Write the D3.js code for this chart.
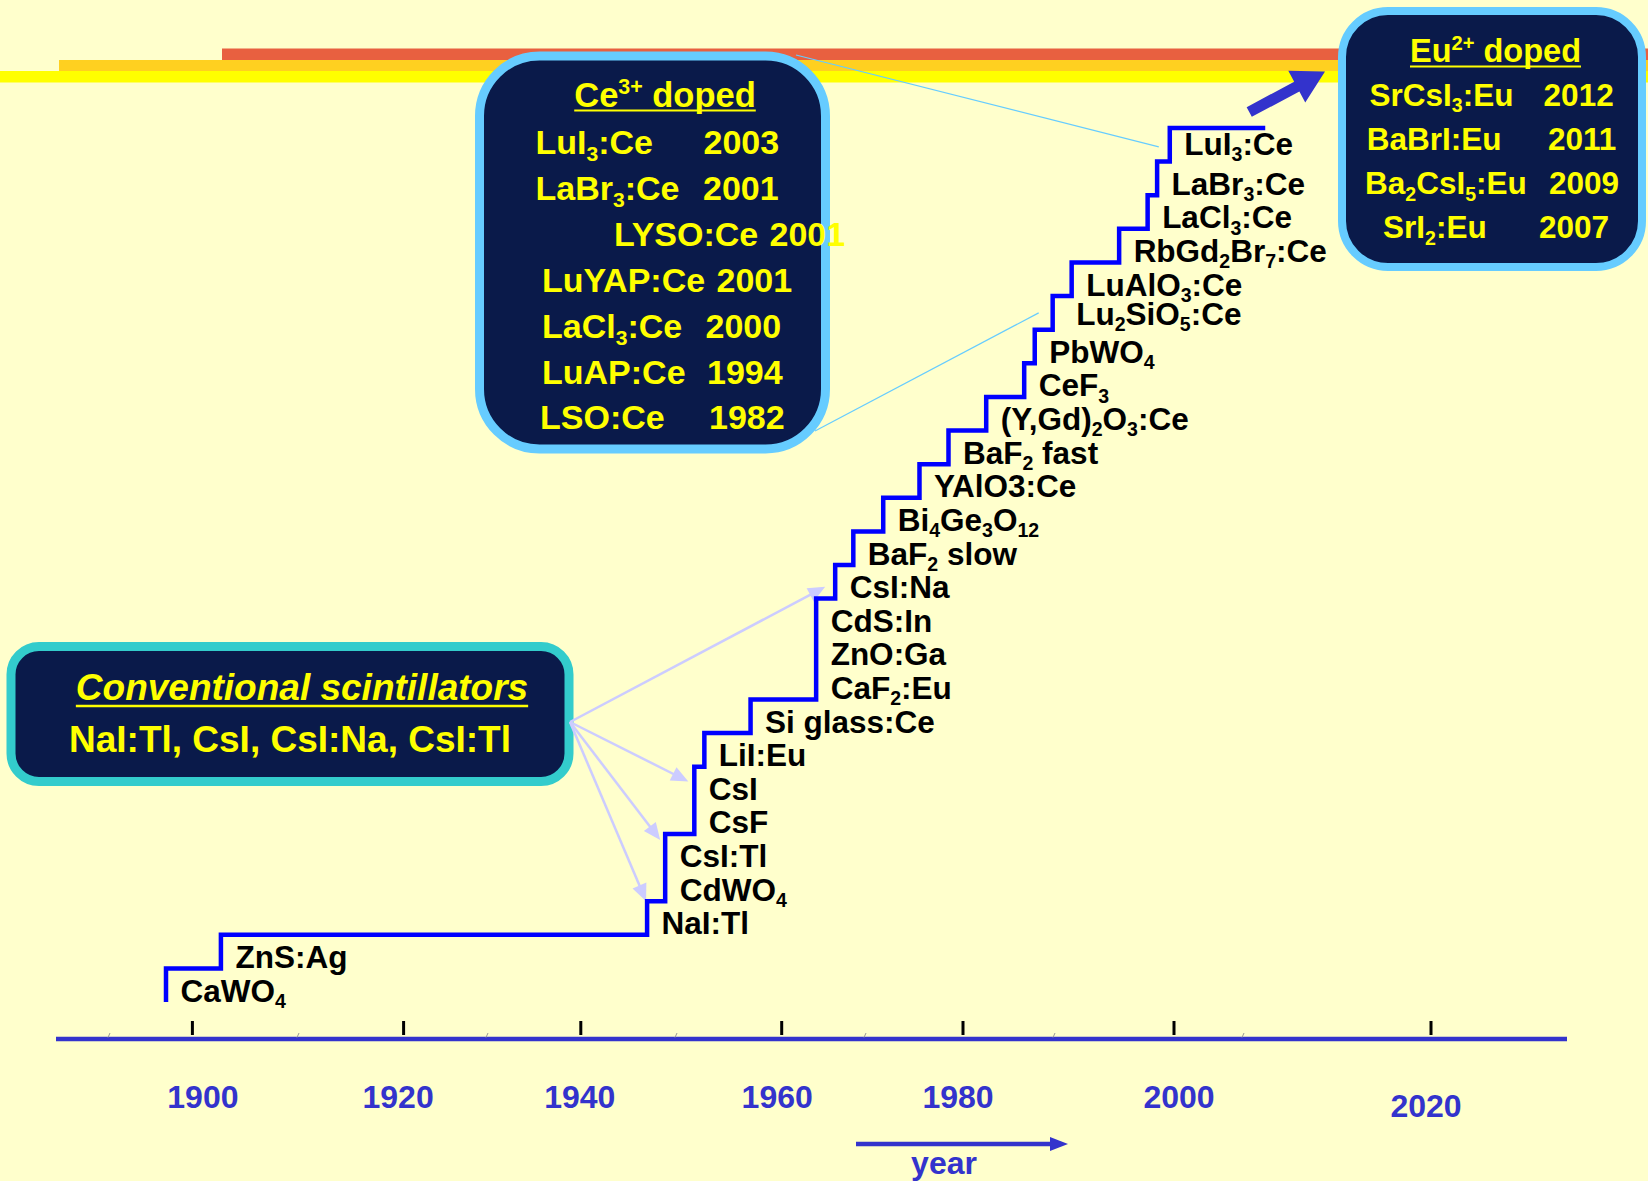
<!DOCTYPE html>
<html>
<head>
<meta charset="utf-8">
<script src="https://cdn.jsdelivr.net/npm/d3@7"></script>
<style>
  html, body { margin: 0; padding: 0; background: #ffffcc; }
  svg { display: block; }
  text { font-family: "Liberation Sans", Arial, Helvetica, sans-serif; font-weight: bold; }
</style>
</head>
<body>
<svg id="chart" width="1648" height="1181"></svg>
<script>
// ---------------- data ----------------
// Scintillator materials in order of discovery (bottom step first).
// "_{..}" marks a subscript, "^{..}" a superscript.
const materials = [
  "CaWO_{4}", "ZnS:Ag", "NaI:Tl", "CdWO_{4}", "CsI:Tl", "CsF", "CsI", "LiI:Eu",
  "Si glass:Ce", "CaF_{2}:Eu", "ZnO:Ga", "CdS:In", "CsI:Na", "BaF_{2} slow",
  "Bi_{4}Ge_{3}O_{12}", "YAlO3:Ce", "BaF_{2} fast", "(Y,Gd)_{2}O_{3}:Ce", "CeF_{3}",
  "PbWO_{4}", "Lu_{2}SiO_{5}:Ce", "LuAlO_{3}:Ce", "RbGd_{2}Br_{7}:Ce", "LaCl_{3}:Ce",
  "LaBr_{3}:Ce", "LuI_{3}:Ce"
];
const discoveryYears = [
  1897.5, 1902.7, 1946.6, 1948.4, 1948.4, 1951.3, 1951.3, 1952.3,
  1956.9, 1963.8, 1963.8, 1963.8, 1965.9, 1967.9,
  1971.2, 1975.2, 1978.4, 1982.2, 1985.8,
  1986.8, 1988.5, 1990.3, 1994.8, 1997.5,
  1998.4, 1999.6
];
const stepEndYear = 2007.1;

const axisYears = [1900, 1920, 1940, 1960, 1980, 2000, 2020];

const conventional = ["NaI:Tl", "CsI", "CsI:Na", "CsI:Tl"];

const ceDoped      = ["LuI_{3}:Ce", "LaBr_{3}:Ce", "LYSO:Ce", "LuYAP:Ce", "LaCl_{3}:Ce", "LuAP:Ce", "LSO:Ce"];
const ceDopedYears = [2003, 2001, 2001, 2001, 2000, 1994, 1982];

const euDoped      = ["SrCsI_{3}:Eu", "BaBrI:Eu", "Ba_{2}CsI_{5}:Eu", "SrI_{2}:Eu"];
const euDopedYears = [2012, 2011, 2009, 2007];

// ---------------- setup ----------------
const svg = d3.select("#chart");
const NAVY = "#0a1a4a", YELLOW = "#ffff00", AXIS_BLUE = "#3333cc";

// Hand-spaced time axis: piecewise linear between labelled years.
const x = d3.scaleLinear()
  .domain(axisYears)
  .range([192.4, 403.6, 580.8, 781.7, 963, 1174, 1431]);

// One row per material on the staircase.
const y = d3.scaleLinear().domain([0, materials.length]).range([1002, 128]);

// Writes a string with _{sub} / ^{sup} markup into a <text> element.
function rich(textSel, str, fs) {
  const re = /([_^])\{([^}]*)\}/g;
  const parts = [];
  let last = 0, m;
  while ((m = re.exec(str))) {
    if (m.index > last) parts.push({ t: str.slice(last, m.index), k: "" });
    parts.push({ t: m[2], k: m[1] });
    last = re.lastIndex;
  }
  if (last < str.length) parts.push({ t: str.slice(last), k: "" });
  let cur = 0;
  parts.forEach(p => {
    const target = p.k === "_" ? 0.2 * fs : p.k === "^" ? -0.36 * fs : 0;
    const ts = textSel.append("tspan").attr("dy", target - cur).text(p.t);
    if (p.k) ts.attr("font-size", 0.62 * fs);
    cur = target;
  });
  return textSel;
}

function underline(textSel, offset, width) {
  const b = textSel.node().getBBox();
  const by = +textSel.attr("y") + offset;
  svg.append("line")
    .attr("x1", b.x).attr("x2", b.x + b.width)
    .attr("y1", by).attr("y2", by)
    .attr("stroke", textSel.attr("fill")).attr("stroke-width", width);
}

// ---------------- header stripes ----------------
const stripes = [
  { x0: 222, y0: 48.5, h: 11.5, c: "#e86040" },
  { x0: 59,  y0: 60,   h: 11,   c: "#ffd020" },
  { x0: 0,   y0: 71,   h: 11.5, c: "#ffff00" }
];
svg.append("g").selectAll("rect").data(stripes).join("rect")
  .attr("x", d => d.x0).attr("y", d => d.y0)
  .attr("width", d => 1648 - d.x0).attr("height", d => d.h)
  .attr("fill", d => d.c);

// ---------------- callout lines from Ce box to the staircase ----------------
const rowMid = i => (y(i) + y(i + 1)) / 2;
const iLuI = materials.indexOf("LuI_{3}:Ce");
const iLSO = materials.indexOf("Lu_{2}SiO_{5}:Ce");
svg.append("g").attr("stroke", "#66ccff").attr("stroke-width", 1.2)
  .selectAll("line")
  .data([
    [796, 55, x(discoveryYears[iLuI]) - 11, rowMid(iLuI) + 2],
    [815, 431, x(discoveryYears[iLSO]) - 14, rowMid(iLSO)]
  ])
  .join("line")
  .attr("x1", d => d[0]).attr("y1", d => d[1])
  .attr("x2", d => d[2]).attr("y2", d => d[3]);

// ---------------- Ce3+ doped box ----------------
svg.append("rect")
  .attr("x", 479.5).attr("y", 56).attr("width", 346).attr("height", 393)
  .attr("rx", 60).attr("ry", 60)
  .attr("fill", NAVY).attr("stroke", "#66ccff").attr("stroke-width", 9);

const ceTitle = svg.append("text")
  .attr("x", 665).attr("y", 106.5).attr("text-anchor", "middle")
  .attr("font-size", 34.5).attr("fill", YELLOW);
rich(ceTitle, "Ce^{3+}", 34.5);
ceTitle.append("tspan").attr("dy", 0.36 * 34.5).text(" doped");
underline(ceTitle, 4, 2.2);

const ceNameX = [535.5, 535.5, 614, 542, 542, 542, 540];
const ceYearX = [703.5, 703, 769.5, 716.5, 705.5, 707, 709];
ceDoped.forEach((name, i) => {
  const base = 154.3 + i * 45.85;
  rich(svg.append("text").attr("x", ceNameX[i]).attr("y", base)
    .attr("font-size", 34).attr("fill", YELLOW), name, 34);
  svg.append("text").attr("x", ceYearX[i]).attr("y", base)
    .attr("font-size", 34).attr("fill", YELLOW).text(ceDopedYears[i]);
});

// ---------------- Eu2+ doped box ----------------
svg.append("rect")
  .attr("x", 1342).attr("y", 11).attr("width", 300).attr("height", 256)
  .attr("rx", 46).attr("ry", 46)
  .attr("fill", NAVY).attr("stroke", "#66ccff").attr("stroke-width", 8);

const euTitle = svg.append("text")
  .attr("x", 1495.5).attr("y", 61.5).attr("text-anchor", "middle")
  .attr("font-size", 32.5).attr("fill", YELLOW);
rich(euTitle, "Eu^{2+}", 32.5);
euTitle.append("tspan").attr("dy", 0.36 * 32.5).text(" doped");
underline(euTitle, 5, 2.2);

const euNameX = [1369.5, 1366.8, 1365, 1383];
const euYearX = [1543.6, 1548, 1549, 1539];
euDoped.forEach((name, i) => {
  const base = 106 + i * 44.1;
  rich(svg.append("text").attr("x", euNameX[i]).attr("y", base)
    .attr("font-size", 31.5).attr("fill", YELLOW), name, 31.5);
  svg.append("text").attr("x", euYearX[i]).attr("y", base)
    .attr("font-size", 31.5).attr("fill", YELLOW).text(euDopedYears[i]);
});

// ---------------- conventional scintillators box ----------------
svg.append("rect")
  .attr("x", 11).attr("y", 646.5).attr("width", 558).attr("height", 135)
  .attr("rx", 28).attr("ry", 28)
  .attr("fill", NAVY).attr("stroke", "#33cccc").attr("stroke-width", 9);

const convTitle = svg.append("text")
  .attr("x", 302).attr("y", 700).attr("text-anchor", "middle")
  .attr("font-size", 37).attr("font-style", "italic").attr("fill", YELLOW)
  .text("Conventional scintillators");
underline(convTitle, 6, 2.5);

svg.append("text")
  .attr("x", 290).attr("y", 751.5).attr("text-anchor", "middle")
  .attr("font-size", 37).attr("fill", YELLOW)
  .text(conventional.join(", "));

// ---------------- arrows from the conventional box ----------------
const LAV = "#ccccff";
const arrowOrigin = [570, 722];
const arrowAim = { "NaI:Tl": [-1, 0.0], "CsI": [-6, 0.44], "CsI:Na": [-10, 0.65], "CsI:Tl": [-5, 0.18] };
const arrows = conventional.map(name => {
  const i = materials.indexOf(name);
  const [dx, f] = arrowAim[name];
  return [x(discoveryYears[i]) + dx, y(i + 1) + f * (y(i) - y(i + 1))];
});
const ga = svg.append("g");
arrows.forEach(([tx, ty]) => {
  const [ox, oy] = arrowOrigin;
  const L = Math.hypot(tx - ox, ty - oy), ux = (tx - ox) / L, uy = (ty - oy) / L;
  const hl = 17, hw = 7.5;
  const bx = tx - ux * hl, by = ty - uy * hl;
  ga.append("line").attr("x1", ox).attr("y1", oy).attr("x2", bx + ux * 2).attr("y2", by + uy * 2)
    .attr("stroke", LAV).attr("stroke-width", 2.5);
  ga.append("polygon")
    .attr("points", [[tx, ty], [bx - uy * hw, by + ux * hw], [bx + uy * hw, by - ux * hw]].map(p => p.join(",")).join(" "))
    .attr("fill", LAV);
});

// ---------------- staircase ----------------
const pts = [];
materials.forEach((m, i) => {
  const xi = x(discoveryYears[i]);
  pts.push([xi, y(i)], [xi, y(i + 1)]);
});
pts.push([x(stepEndYear), y(materials.length)]);
svg.append("path")
  .attr("d", d3.line()(pts))
  .attr("fill", "none").attr("stroke", "#0000ff").attr("stroke-width", 4.5)
  .attr("stroke-linejoin", "miter");

// step labels, just right of each riser
const labelNudge = { "Lu_{2}SiO_{5}:Ce": [9, -4], "LuI_{3}:Ce": [0, -6] };
materials.forEach((name, i) => {
  const [nx, ny] = labelNudge[name] || [0, 0];
  rich(svg.append("text")
    .attr("x", x(discoveryYears[i]) + 14.5 + nx)
    .attr("y", y(i) - 0.5 + ny)
    .attr("font-size", 31.5).attr("fill", "#000"), name, 31.5);
});

// ---------------- arrow toward the Eu2+ generation ----------------
{
  const tail = [x(stepEndYear) - 16, y(materials.length) - 16];
  const tip = [1325, 71.5];
  const L = Math.hypot(tip[0] - tail[0], tip[1] - tail[1]);
  const ux = (tip[0] - tail[0]) / L, uy = (tip[1] - tail[1]) / L;
  const nx = -uy, ny = ux;
  const hl = 32, hw = 18, sw = 5.5;
  const b = [tip[0] - ux * hl, tip[1] - uy * hl];
  const P = [
    [tail[0] + nx * sw, tail[1] + ny * sw],
    [b[0] + nx * sw, b[1] + ny * sw],
    [b[0] + nx * hw, b[1] + ny * hw],
    tip,
    [b[0] - nx * hw, b[1] - ny * hw],
    [b[0] - nx * sw, b[1] - ny * sw],
    [tail[0] - nx * sw, tail[1] - ny * sw]
  ];
  svg.append("polygon").attr("points", P.map(p => p.join(",")).join(" ")).attr("fill", AXIS_BLUE);
}

// ---------------- time axis ----------------
const axisY = 1039;
svg.append("line").attr("x1", 56).attr("x2", 1567).attr("y1", axisY).attr("y2", axisY)
  .attr("stroke", AXIS_BLUE).attr("stroke-width", 4.5);

// faint minor marks sitting on the axis line
svg.append("g").selectAll("line").data(d3.range(7).map(k => 109 + k * 189)).join("line")
  .attr("x1", d => d - 1).attr("y1", axisY - 1.5).attr("x2", d => d + 1).attr("y2", axisY - 6)
  .attr("stroke", "#999").attr("stroke-width", 1);

svg.append("g").selectAll("line").data(axisYears).join("line")
  .attr("x1", d => x(d)).attr("x2", d => x(d))
  .attr("y1", 1021).attr("y2", 1035)
  .attr("stroke", "#000").attr("stroke-width", 3);

// year labels sit slightly off their tick marks
const tickLabelShift = [10.5, -5.5, -1, -4.5, -5, 5, -5];
svg.append("g").selectAll("text").data(axisYears).join("text")
  .attr("x", (d, i) => x(d) + tickLabelShift[i])
  .attr("y", (d, i) => i === axisYears.length - 1 ? 1117 : 1108)
  .attr("text-anchor", "middle").attr("font-size", 32).attr("fill", AXIS_BLUE)
  .text(d => d);

// "year" direction arrow
svg.append("line").attr("x1", 856).attr("x2", 1052).attr("y1", 1144).attr("y2", 1144)
  .attr("stroke", AXIS_BLUE).attr("stroke-width", 4.5);
svg.append("polygon").attr("points", "1068,1144 1050,1137 1050,1151").attr("fill", AXIS_BLUE);
svg.append("text").attr("x", 944).attr("y", 1174).attr("text-anchor", "middle")
  .attr("font-size", 32).attr("fill", AXIS_BLUE).text("year");
</script>
</body>
</html>
